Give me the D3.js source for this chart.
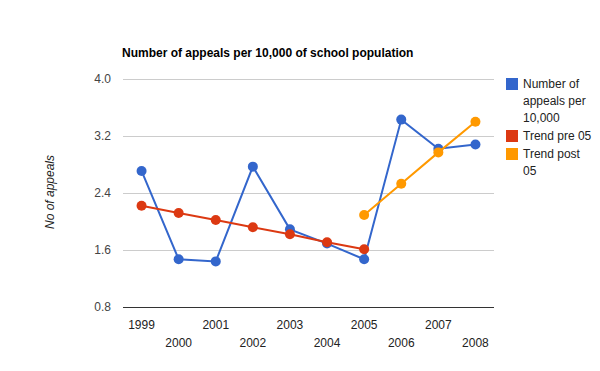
<!DOCTYPE html>
<html>
<head>
<meta charset="utf-8">
<script src="https://cdn.jsdelivr.net/npm/d3@7"></script>
<style>
	body{
		margin:0;
		background:#fff;
		font-family: Arial, 'Liberation Sans', sans-serif;
	}
</style>
</head>
<body>
<div id="chart"></div>
<script>

//DATA

var years = ["1999","2000","2001","2002","2003","2004","2005","2006","2007","2008"];
var appeals = [2.71, 1.47, 1.44, 2.77, 1.89, 1.69, 1.47, 3.43, 3.02, 3.08];
var trendPre = [2.22, 2.12, 2.02, 1.92, 1.82, 1.71, 1.61];   // 1999-2005
var trendPost = [2.09, 2.53, 2.97, 3.40];                   // 2005-2008
var yTicks = [0.8, 1.6, 2.4, 3.2, 4.0];

var legendItems = [
	{lines:["Number of","appeals per","10,000"], color:"#3366cc"},
	{lines:["Trend pre 05"], color:"#dc3912"},
	{lines:["Trend post","05"], color:"#ff9900"}
];

//SETUP

var width = 600;
var height = 371;
var plotLeft = 123, plotRight = 494, plotTop = 79, plotBottom = 307;

var svg = d3.select("#chart").append("svg")
	.attr("width", width)
	.attr("height", height);

var x = d3.scaleBand()
	.domain(years)
	.range([plotLeft, plotRight]);

var y = d3.scaleLinear()
	.domain([0.8, 4.0])
	.range([plotBottom, plotTop]);

function cx(d){ return x(d) + x.bandwidth()/2; }

//TITLE

svg.append("text")
	.attr("x", 122)
	.attr("y", 57)
	.attr("font-size", 12)
	.attr("font-weight", "bold")
	.attr("fill", "#000")
	.text("Number of appeals per 10,000 of school population");

//GRID + Y LABELS

svg.append("g").selectAll("line")
	.data(yTicks.slice(1))
	.enter()
	.append("line")
	.attr("x1", plotLeft)
	.attr("x2", plotRight)
	.attr("y1", function(d){ return Math.round(y(d)) + 0.5; })
	.attr("y2", function(d){ return Math.round(y(d)) + 0.5; })
	.attr("stroke", "#cccccc");

svg.append("g").selectAll("text")
	.data(yTicks)
	.enter()
	.append("text")
	.attr("x", 111)
	.attr("y", function(d){ return y(d) + 4; })
	.attr("text-anchor", "end")
	.attr("font-size", 12)
	.attr("fill", "#444")
	.text(function(d){ return d3.format(".1f")(d); });

svg.append("line")
	.attr("x1", plotLeft)
	.attr("x2", plotRight)
	.attr("y1", Math.round(y(0.8)) + 0.5)
	.attr("y2", Math.round(y(0.8)) + 0.5)
	.attr("stroke", "#333");

//X LABELS (staggered)

svg.append("g").selectAll("text")
	.data(years)
	.enter()
	.append("text")
	.attr("x", cx)
	.attr("y", function(d,i){ return i % 2 == 0 ? 329 : 347; })
	.attr("text-anchor", "middle")
	.attr("font-size", 12)
	.attr("fill", "#222")
	.text(function(d){ return d; });

//Y AXIS TITLE

svg.append("text")
	.attr("transform", "translate(54,192) rotate(-90)")
	.attr("text-anchor", "middle")
	.attr("font-size", 12)
	.attr("font-style", "italic")
	.attr("fill", "#222")
	.text("No of appeals");

//SERIES

function drawSeries(values, startIndex, color){
	var pts = values.map(function(v,i){ return {year: years[startIndex + i], value: v}; });
	var line = d3.line()
		.x(function(d){ return cx(d.year); })
		.y(function(d){ return y(d.value); });
	var g = svg.append("g");
	g.append("path")
		.datum(pts)
		.attr("d", line)
		.attr("fill", "none")
		.attr("stroke", color)
		.attr("stroke-width", 2);
	g.selectAll("circle")
		.data(pts)
		.enter()
		.append("circle")
		.attr("cx", function(d){ return cx(d.year); })
		.attr("cy", function(d){ return y(d.value); })
		.attr("r", 5)
		.attr("fill", color);
}

drawSeries(appeals, 0, "#3366cc");
drawSeries(trendPre, 0, "#dc3912");
drawSeries(trendPost, 6, "#ff9900");

//LEGEND

var legendY = [84, 136, 154];
var legend = svg.append("g");
legendItems.forEach(function(item, i){
	legend.append("rect")
		.attr("x", 506)
		.attr("y", legendY[i] - 6)
		.attr("width", 12)
		.attr("height", 12)
		.attr("fill", item.color);
	item.lines.forEach(function(t, j){
		legend.append("text")
			.attr("x", 523)
			.attr("y", legendY[i] + 4 + j*17)
			.attr("font-size", 12)
			.attr("fill", "#222")
			.text(t);
	});
});

</script>
</body>
</html>
